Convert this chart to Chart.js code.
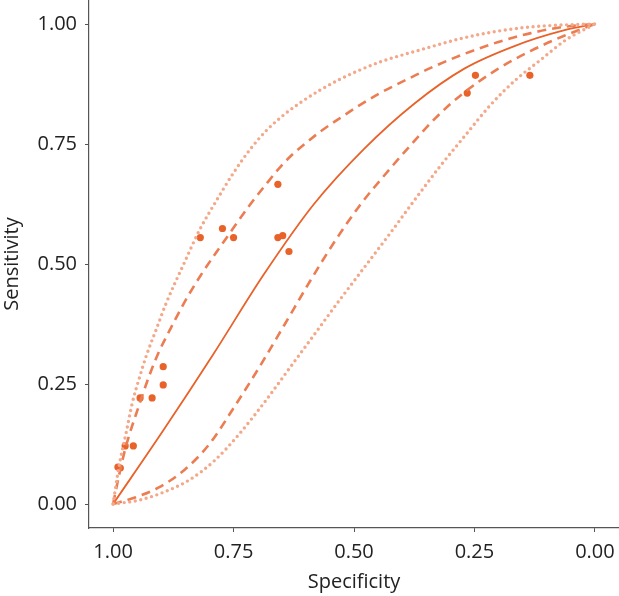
<!DOCTYPE html>
<html lang="en">
<head>
<meta charset="UTF-8">
<title>SROC curve</title>
<script src="https://cdn.jsdelivr.net/npm/chart.js"></script>
<style>
  body { margin: 0; background: #fff; }
  canvas { display: block; }
</style>
</head>
<body>
<canvas id="sroc" width="619" height="596"></canvas>
<script>
// study points
const studySpec = [0.990, 0.985, 0.975, 0.958, 0.944, 0.919, 0.896, 0.896, 0.819, 0.773, 0.750, 0.658, 0.658, 0.648, 0.635, 0.265, 0.248, 0.135];
const studySens = [0.077, 0.075, 0.121, 0.121, 0.221, 0.221, 0.286, 0.248, 0.555, 0.574, 0.555, 0.666, 0.555, 0.559, 0.526, 0.856, 0.893, 0.893];

// summary curve
const sumSpec = [1.000, 0.896, 0.792, 0.688, 0.583, 0.479, 0.375, 0.271, 0.167, 0.063, 0.000];
const sumSens = [0.000, 0.153, 0.312, 0.477, 0.625, 0.740, 0.834, 0.907, 0.954, 0.987, 1.000];

// confidence region (dashed)
const ciUpSpec = [1.000, 0.988, 0.977, 0.967, 0.952, 0.925, 0.904, 0.883, 0.852, 0.821, 0.758, 0.717, 0.681, 0.654, 0.629, 0.613, 0.571, 0.529, 0.488, 0.446, 0.377, 0.342, 0.273, 0.202, 0.133, 0.065, 0.000];
const ciUpSens = [0.000, 0.058, 0.106, 0.142, 0.188, 0.267, 0.319, 0.361, 0.420, 0.472, 0.564, 0.622, 0.668, 0.701, 0.727, 0.741, 0.775, 0.804, 0.831, 0.856, 0.891, 0.908, 0.937, 0.962, 0.981, 0.994, 1.000];
const ciLoSpec = [1.000, 0.956, 0.904, 0.852, 0.800, 0.748, 0.696, 0.644, 0.592, 0.540, 0.488, 0.435, 0.383, 0.331, 0.273, 0.202, 0.133, 0.065, 0.000];
const ciLoSens = [0.000, 0.013, 0.035, 0.071, 0.125, 0.203, 0.286, 0.374, 0.463, 0.547, 0.622, 0.687, 0.747, 0.804, 0.856, 0.906, 0.944, 0.975, 1.000];

// prediction region (dotted)
const prUpSpec = [1.000, 0.988, 0.973, 0.960, 0.946, 0.931, 0.910, 0.890, 0.852, 0.821, 0.785, 0.752, 0.717, 0.681, 0.644, 0.613, 0.571, 0.529, 0.488, 0.446, 0.377, 0.342, 0.273, 0.202, 0.133, 0.065, 0.000];
const prUpSens = [0.000, 0.077, 0.148, 0.211, 0.261, 0.309, 0.365, 0.418, 0.503, 0.570, 0.633, 0.687, 0.737, 0.779, 0.812, 0.835, 0.862, 0.885, 0.904, 0.921, 0.942, 0.952, 0.971, 0.985, 0.994, 0.998, 1.000];
const prLoSpec = [1.000, 0.946, 0.894, 0.842, 0.790, 0.738, 0.685, 0.633, 0.581, 0.529, 0.477, 0.425, 0.373, 0.321, 0.269, 0.217, 0.165, 0.113, 0.060, 0.000];
const prLoSens = [0.000, 0.008, 0.025, 0.050, 0.090, 0.146, 0.213, 0.284, 0.355, 0.426, 0.495, 0.564, 0.635, 0.704, 0.768, 0.831, 0.883, 0.925, 0.967, 1.000];

const tickVals = [0, 0.25, 0.5, 0.75, 1];

const punti = (xs, ys) => xs.map((x, i) => ({ x: x, y: ys[i] }));

const ORANGE = '#e8622a';
const DASH = '#ec7d53';
const DOT = '#f3a88a';

function linea(xs, ys, colore, stile) {
  return Object.assign({
    data: punti(xs, ys),
    showLine: true,
    pointRadius: 0,
    borderColor: colore,
    fill: false,
    cubicInterpolationMode: 'monotone'
  }, stile);
}

const dashed = { borderWidth: 2.6, borderDash: [9, 6] };
const dotted = { borderWidth: 3.4, borderDash: [0, 5.6], borderCapStyle: 'round' };

const axisFont = { family: 'Open Sans', size: 20 };

function asse(extra) {
  return Object.assign({
    type: 'linear',
    min: -0.05,
    max: 1.05,
    afterBuildTicks: s => { s.ticks = tickVals.map(v => ({ value: v })); },
    grid: { display: true, drawOnChartArea: false, drawTicks: true, tickLength: 4, color: '#555', lineWidth: 1 },
    border: { display: true, color: '#555', width: 1.2 },
    ticks: { font: axisFont, color: '#222', padding: 8, callback: v => v.toFixed(2) }
  }, extra);
}

// niente padding automatico: l'area del grafico va fino ai bordi
function senzaPadding(s) {
  s.paddingTop = 0;
  s.paddingBottom = 0;
  s.paddingLeft = 0;
  s.paddingRight = 0;
}

new Chart(document.getElementById('sroc'), {
  type: 'scatter',
  data: {
    datasets: [
      linea(prUpSpec, prUpSens, DOT, dotted),
      linea(prLoSpec, prLoSens, DOT, dotted),
      linea(ciUpSpec, ciUpSens, DASH, dashed),
      linea(ciLoSpec, ciLoSens, DASH, dashed),
      linea(sumSpec, sumSens, ORANGE, { borderWidth: 1.8 }),
      {
        data: punti(studySpec, studySens),
        pointRadius: 3.6,
        pointBackgroundColor: ORANGE,
        pointBorderWidth: 0,
        showLine: false
      }
    ]
  },
  options: {
    responsive: false,
    animation: false,
    layout: { autoPadding: false, padding: 0 },
    plugins: { legend: { display: false }, tooltip: { enabled: false } },
    scales: {
      x: asse({
        reverse: true,
        title: { display: true, text: 'Specificity', font: axisFont, color: '#222', padding: { bottom: 2 } },
        afterFit: s => { s.height = 68; senzaPadding(s); }
      }),
      y: asse({
        title: { display: true, text: 'Sensitivity', font: axisFont, color: '#222', padding: { top: 0 } },
        afterFit: s => { s.width = 89; senzaPadding(s); }
      })
    }
  }
});
</script>
</body>
</html>
